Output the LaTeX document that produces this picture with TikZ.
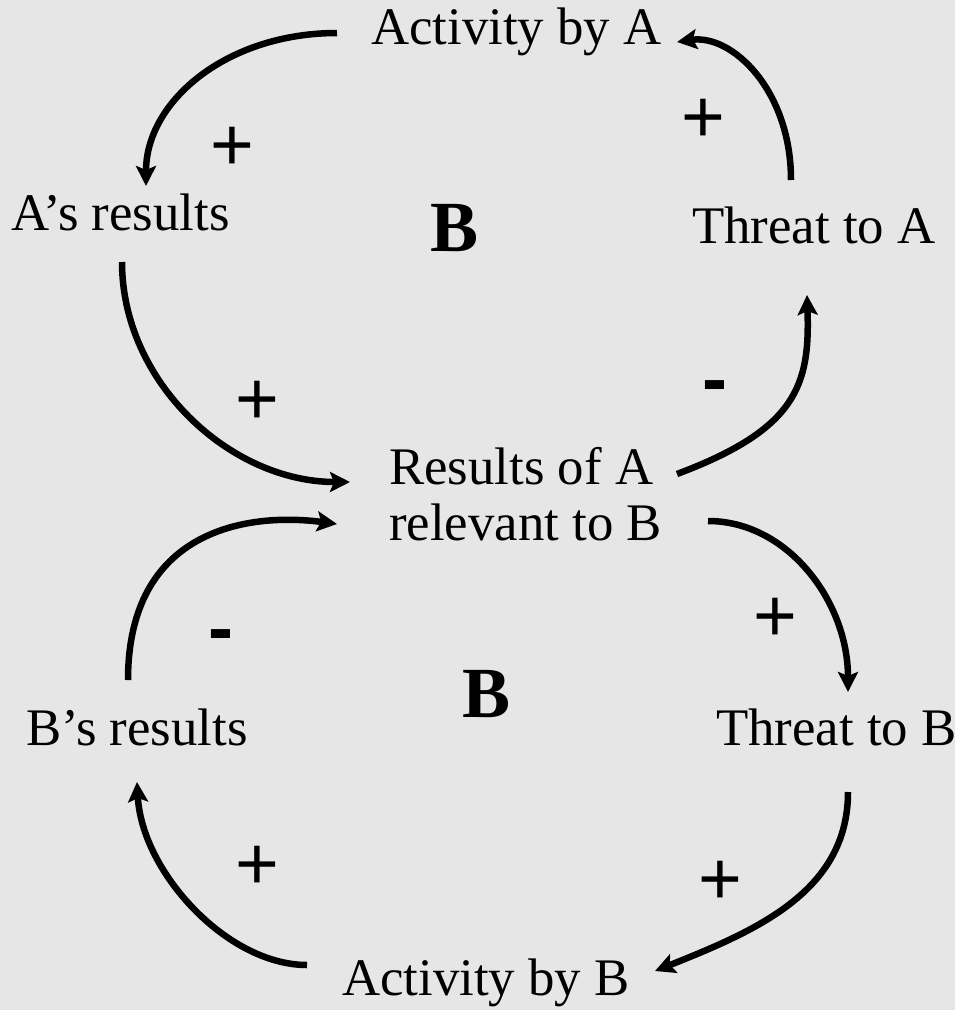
\documentclass[tikz,border=0pt]{standalone}
\usepackage{fontspec}
\setmainfont{Liberation Serif}
\newfontfamily\signfont{Liberation Sans}
\usetikzlibrary{arrows.meta,calc}
\definecolor{bgc}{RGB}{230,230,230}
\begin{document}
\begin{tikzpicture}[x=1pt,y=-1pt,
  lab/.style={anchor=base west,inner sep=0pt,font=\fontsize{52.8}{56}\selectfont},
  sgn/.style={inner sep=0pt,font=\signfont\fontsize{75}{80}\selectfont},
  neg/.style={inner sep=0pt,font=\signfont\bfseries\fontsize{75}{80}\selectfont},
  loopmark/.style={inner sep=0pt,font=\bfseries\fontsize{72}{80}\selectfont},
  link/.style={line width=6.5pt,-{Stealth[length=20pt,width=20pt,inset=4pt]}}]
\fill[bgc] (0,0) rectangle (955,1010);
\useasboundingbox (0,0) rectangle (955,1010);

% variables
\node[lab] (actA) at (371,44) {Activity by A};
\node[lab] (resA) at (11,230) {A’s results};
\node[lab] (thrA) at (692,243) {Threat to A};
\node[lab] (rel1) at (389,484) {Results of A};
\node[lab] (rel2) at (389,540) {relevant to B};
\node[lab] (resB) at (26,745) {B’s results};
\node[lab] (thrB) at (716,745) {Threat to B};
\node[lab] (actB) at (342,995) {Activity by B};

% loop markers
\node[loopmark] (loopA) at (455,228) {B};
\node[loopmark] (loopBB) at (487,694) {B};

% polarity signs
\node[sgn] (p1) at (232,149) {+};
\node[sgn] (p2) at (703,121) {+};
\node[sgn] (p3) at (257,403) {+};
\node[neg] (m1) at (715,393) {-};
\node[neg] (m2) at (221,642) {-};
\node[sgn] (p4) at (775,620) {+};
\node[sgn] (p5) at (257,868) {+};
\node[sgn] (p6) at (720,883) {+};

% links
\draw[link] ($(actA.base west)+(-34,-11)$) .. controls +(-110,0) and +(0,-85) .. ($(resA.base west)+(135,-44)$);
\draw[link] ($(thrA.base west)+(99,-63)$) .. controls +(0,-90) and +(55,-8) .. ($(actA.base west)+(306,-2)$);
\draw[link] ($(resA.base west)+(111,32)$) .. controls +(0,120) and +(-120,0) .. ($(rel1.base west)+(-39,-2)$);
\draw[link] ($(rel1.base west)+(288,-10)$) .. controls +(120,-45) and +(3,90) .. ($(thrA.base west)+(115,52)$);
\draw[link] ($(resB.base west)+(102,-65)$) .. controls +(0,-150) and +(-90,-12) .. ($(rel2.base west)+(-52,-16)$);
\draw[link] ($(rel2.base west)+(319,-19)$) .. controls +(80,0) and +(0,-90) .. ($(thrB.base west)+(132,-53)$);
\draw[link] ($(thrB.base west)+(132,47)$) .. controls +(0,100) and +(100,-40) .. ($(actB.base west)+(313,-24)$);
\draw[link] ($(actB.base west)+(-35,-30)$) .. controls +(-80,0) and +(5,90) .. ($(resB.base west)+(111,37)$);
\end{tikzpicture}
\end{document}
